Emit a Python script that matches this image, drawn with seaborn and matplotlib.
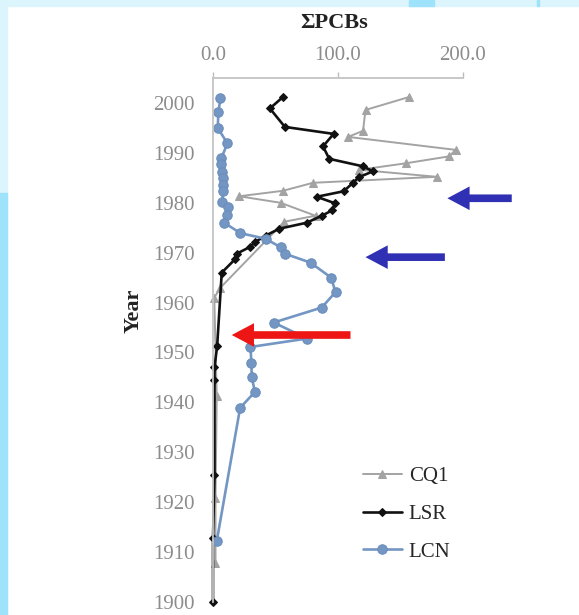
import matplotlib
matplotlib.use("Agg")
import matplotlib.pyplot as plt
import seaborn as sns
from matplotlib.patches import Rectangle

# values (sum PCBs vs core year)
cq1_year = [2001.2, 1998.6, 1994.4, 1993.2, 1990.6, 1989.3, 1987.9, 1986.6, 1985.2, 1984.0,
            1982.4, 1981.3, 1980.0, 1977.4, 1976.2, 1963.0, 1961.0, 1941.2, 1920.8, 1907.8]
cq1_val = [157, 122, 120, 108, 194, 189, 154, 117, 179, 80,
           56, 21, 54, 82, 57, 6, 1, 3, 2, 2]

lsr_year = [2001.2, 1998.9, 1995.2, 1993.8, 1991.3, 1988.8, 1987.3, 1986.3, 1985.1, 1984.0,
            1982.3, 1981.2, 1979.9, 1978.5, 1977.4, 1976.0, 1974.8, 1973.4, 1972.1, 1971.2,
            1969.8, 1968.7, 1966.0, 1951.2, 1947.1, 1944.5, 1925.4, 1912.8, 1900.1]
lsr_val = [56, 45.5, 57.5, 96.5, 88, 93, 120, 128, 116.5, 112,
           104.5, 83, 97.5, 95.5, 87, 75, 53, 42, 33.5, 30,
           19, 17.7, 7, 3.3, 1.2, 1.2, 1.2, 0, 0]

lcn_year = [2001.0, 1998.2, 1995.0, 1991.9, 1989.0, 1987.8, 1986.2, 1985.0, 1983.5, 1982.3,
            1980.1, 1979.1, 1977.6, 1976.0, 1973.9, 1972.8, 1971.1, 1969.8, 1968.0, 1965.0,
            1962.1, 1959.0, 1956.0, 1952.8, 1951.1, 1947.9, 1945.1, 1942.1, 1938.9, 1912.2]
lcn_val = [6, 4.3, 3.8, 11.5, 6.8, 6.5, 7.4, 8, 8, 8,
           7.4, 11.9, 11.6, 8.9, 22, 42, 54, 57.5, 78, 94.5,
           98, 87, 48.5, 75.3, 30, 30.7, 31, 33.5, 21.7, 3]

year_ticks = list(range(1900, 2001, 10))
pcb_ticks = [0, 100, 200]
pcb_labels = ["0.0", "100.0", "200.0"]

sns.set_theme(style="white")
plt.rcParams["font.family"] = ["Liberation Serif", "DejaVu Serif"]

fig = plt.figure(figsize=(5.79, 6.15), dpi=100)
ax = fig.add_axes([213 / 579, 1 - 602 / 615, 250 / 579, 524 / 615])

# slide background bits around the picture
fig.patches.append(Rectangle((0, 1 - 6 / 615), 1, 6 / 615, transform=fig.transFigure,
                             color="#dcf4fc", zorder=0))
fig.patches.append(Rectangle((0, 0), 7 / 579, 1, transform=fig.transFigure,
                             color="#dcf4fc", zorder=0))
fig.patches.append(Rectangle((0, 0), 7 / 579, 1 - 193 / 615, transform=fig.transFigure,
                             color="#9ee3fb", zorder=0))
fig.patches.append(Rectangle((409 / 579, 1 - 6 / 615), 25 / 579, 6 / 615,
                             transform=fig.transFigure, color="#9ee3fb", zorder=0))
fig.patches.append(Rectangle((537 / 579, 1 - 6 / 615), 2 / 579, 6 / 615,
                             transform=fig.transFigure, color="#9ee3fb", zorder=0))

sns.lineplot(x=cq1_val, y=cq1_year, sort=False, estimator=None, ax=ax, color="#a3a3a3",
             lw=1.4, marker="^", markersize=6, markeredgecolor="#a3a3a3", label="CQ1",
             clip_on=False)
sns.lineplot(x=lsr_val, y=lsr_year, sort=False, estimator=None, ax=ax, color="#111111",
             lw=1.9, marker="D", markersize=4.5, markeredgecolor="#111111", label="LSR",
             clip_on=False)
sns.lineplot(x=lcn_val, y=lcn_year, sort=False, estimator=None, ax=ax, color="#7396c3",
             lw=1.9, marker="o", markersize=6.8, markeredgecolor="#6a8dbc", label="LCN",
             clip_on=False)

ax.set_xlim(0, 200)
ax.set_ylim(1900, 2005)
ax.xaxis.tick_top()
ax.set_xticks(pcb_ticks)
ax.set_xticklabels(pcb_labels)
ax.set_yticks(year_ticks)
ax.set_xlabel("")
ax.set_ylabel("")
ax.tick_params(axis="both", colors="#bdbdbd", labelcolor="#8c8c8c", labelsize=15,
               length=4, width=1, direction="out")
ax.tick_params(axis="x", pad=5)
ax.tick_params(axis="y", pad=9)
for side in ["right", "bottom"]:
    ax.spines[side].set_visible(False)
for side in ["left", "top"]:
    ax.spines[side].set_color("#c4c4c4")
    ax.spines[side].set_linewidth(1.3)

fig.text(334 / 579, 1 - 23 / 615, "ΣPCBs", ha="center", va="center", fontsize=16,
         fontweight="bold", color="#222222")
fig.text(134 / 579, 1 - 311 / 615, "Year", ha="center", va="center", rotation=90,
         fontsize=16, fontweight="bold", color="#222222")

ax.legend(loc="center left", bbox_to_anchor=(363 / 579, 1 - 514 / 615),
          bbox_transform=fig.transFigure, frameon=False, fontsize=15,
          handlelength=1.85, handletextpad=0.35, labelspacing=0.88,
          borderpad=0, borderaxespad=0)

# arrows added on the slide
arrows = [((187.5, 1980.9), (239, 1980.9), "#3030b4"),
          ((122, 1969.1), (185.5, 1969.1), "#3030b4"),
          ((15, 1953.5), (110, 1953.5), "#ee1515")]
for tip, tail, col in arrows:
    ax.annotate("", xy=tip, xytext=tail, annotation_clip=False,
                arrowprops=dict(width=5.5, headwidth=17, headlength=16, shrink=0,
                                color=col, lw=0))

fig.savefig("out.png", dpi=100)
